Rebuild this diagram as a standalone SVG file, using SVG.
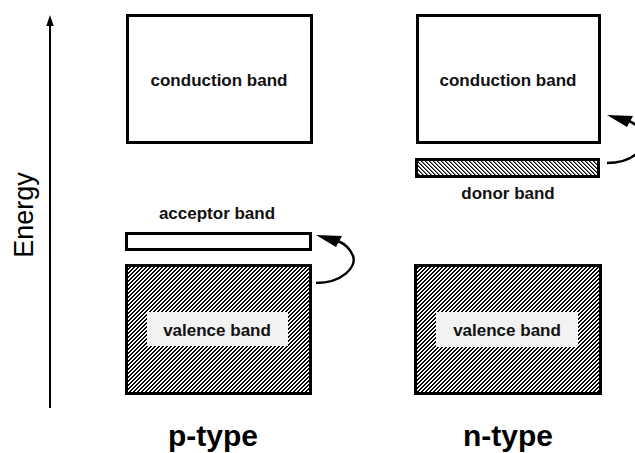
<svg xmlns="http://www.w3.org/2000/svg" width="635" height="453" viewBox="0 0 635 453">
  <defs>
    <!-- pixel-aligned diagonal hatching for filled bands -->
    <pattern id="hatch-fwd" patternUnits="userSpaceOnUse" x="0" y="0" width="4" height="4">
      <rect width="4" height="4" fill="#ffffff"/>
      <path d="M0,0h2v1h-2z M0,1h1v1h-1z M3,1h1v1h-1z M2,2h2v1h-2z M1,3h2v1h-2z" fill="#000" shape-rendering="crispEdges"/>
    </pattern>
    <pattern id="hatch-back" patternUnits="userSpaceOnUse" x="0" y="0" width="4" height="4">
      <rect width="4" height="4" fill="#ffffff"/>
      <path d="M0,0h1v1h-1z M1,1h1v1h-1z M2,2h1v1h-1z M3,3h1v1h-1z" fill="#000" shape-rendering="crispEdges"/>
      <path d="M1,0h1v1h-1z M2,1h1v1h-1z M3,2h1v1h-1z M0,3h1v1h-1z" fill="#777" shape-rendering="crispEdges"/>
    </pattern>
    <g id="jump">
      <path d="M316,283 C342,283 357,267 353,256 C350,248 345,244 338,241" fill="none" stroke="#000" stroke-width="2.5"/>
      <polygon points="316,235 342,236 336,247" fill="#000"/>
    </g>
  </defs>
  <style>
    .band { stroke: #000; stroke-width: 3; }
    .empty { fill: #ffffff; }
    .lbl { font-family: "Liberation Sans", Arial, sans-serif; font-weight: bold; font-size: 17px; fill: #111; text-anchor: middle; }
    .title { font-family: "Liberation Sans", Arial, sans-serif; font-weight: bold; font-size: 30px; fill: #000; text-anchor: middle; }
    .axis { font-family: "Liberation Sans", Arial, sans-serif; font-size: 27px; fill: #000; text-anchor: middle; }
    .labelbg { fill: #f2f2f2; }
  </style>

  <!-- energy axis -->
  <g id="energy-axis">
    <line x1="50" y1="408" x2="50" y2="24" stroke="#000" stroke-width="2"/>
    <polygon points="50,15 46.3,26 53.7,26" fill="#000"/>
    <text class="axis" transform="translate(33,215) rotate(-90)">Energy</text>
  </g>

  <!-- p-type column -->
  <g id="p-conduction">
    <rect class="band empty" x="127.5" y="15.5" width="184" height="127"/>
    <text class="lbl" x="219" y="86">conduction band</text>
  </g>
  <g id="p-acceptor">
    <rect class="band empty" x="126.5" y="233.5" width="184" height="16"/>
    <text class="lbl" x="217" y="219">acceptor band</text>
  </g>
  <g id="p-valence">
    <rect class="band" fill="url(#hatch-fwd)" x="126.5" y="265.5" width="184" height="128"/>
    <rect class="labelbg" x="147" y="312" width="141" height="34"/>
    <text class="lbl" x="217" y="336">valence band</text>
  </g>
  <text class="title" x="213" y="446">p-type</text>

  <!-- n-type column -->
  <g id="n-conduction">
    <rect class="band empty" x="417.5" y="15.5" width="182" height="127"/>
    <text class="lbl" x="508" y="86">conduction band</text>
  </g>
  <g id="n-donor">
    <rect class="band" fill="url(#hatch-back)" x="416.5" y="159.5" width="182" height="17"/>
    <text class="lbl" x="508" y="199">donor band</text>
  </g>
  <g id="n-valence">
    <rect class="band" fill="url(#hatch-fwd)" x="415.5" y="265.5" width="185" height="128"/>
    <rect class="labelbg" x="436" y="312" width="142" height="35"/>
    <text class="lbl" x="507" y="336">valence band</text>
  </g>
  <text class="title" x="508" y="446">n-type</text>

  <!-- excitation arrows -->
  <g id="connectors">
    <use href="#jump"/>
    <use href="#jump" transform="translate(291,-120)"/>
  </g>
</svg>
